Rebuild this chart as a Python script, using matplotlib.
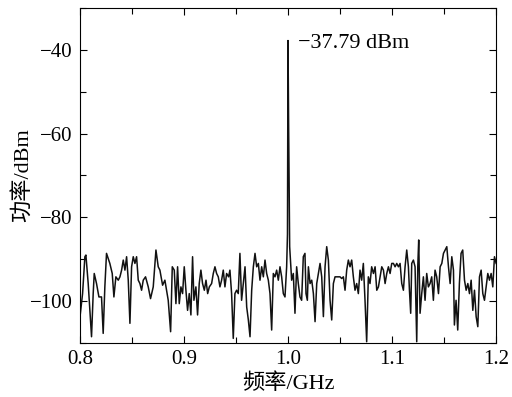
import matplotlib
matplotlib.use("Agg")
import matplotlib.pyplot as plt
from matplotlib.ticker import MultipleLocator

# font: serif for latin, CJK fallback for the chinese labels
plt.rcParams['font.family'] = ['Liberation Serif', 'Noto Sans CJK SC']
plt.rcParams['axes.unicode_minus'] = True

# spectrum trace (GHz, dBm)
freq = [0.8000, 0.8026, 0.8048, 0.8058, 0.8080, 0.8112, 0.8128, 0.8138, 0.8160, 0.8183,
        0.8208, 0.8224, 0.8240, 0.8256, 0.8288, 0.8311, 0.8327, 0.8346, 0.8369, 0.8385,
        0.8401, 0.8417, 0.8433, 0.8449, 0.8465, 0.8481, 0.8497, 0.8513, 0.8529, 0.8545,
        0.8561, 0.8577, 0.8593, 0.8609, 0.8631, 0.8657, 0.8679, 0.8705, 0.8731, 0.8753,
        0.8769, 0.8795, 0.8817, 0.8833, 0.8849, 0.8872, 0.8888, 0.8907, 0.8923, 0.8939,
        0.8955, 0.8971, 0.8987, 0.9003, 0.9019, 0.9035, 0.9051, 0.9067, 0.9083, 0.9096,
        0.9115, 0.9131, 0.9147, 0.9163, 0.9179, 0.9196, 0.9212, 0.9228, 0.9244, 0.9266,
        0.9282, 0.9298, 0.9314, 0.9330, 0.9346, 0.9362, 0.9378, 0.9394, 0.9410, 0.9429,
        0.9442, 0.9458, 0.9474, 0.9490, 0.9506, 0.9522, 0.9538, 0.9554, 0.9571, 0.9587,
        0.9603, 0.9619, 0.9635, 0.9651, 0.9667, 0.9683, 0.9699, 0.9715, 0.9731, 0.9747,
        0.9763, 0.9779, 0.9795, 0.9811, 0.9827, 0.9843, 0.9859, 0.9875, 0.9891, 0.9907,
        0.9923, 0.9939, 0.9955, 0.9971, 0.9987, 0.9995, 1.0000, 1.0006, 1.0016, 1.0035,
        1.0051, 1.0067, 1.0083, 1.0099, 1.0115, 1.0131, 1.0147, 1.0163, 1.0173, 1.0186,
        1.0196, 1.0212, 1.0228, 1.0244, 1.0260, 1.0276, 1.0292, 1.0308, 1.0324, 1.0340,
        1.0356, 1.0372, 1.0388, 1.0404, 1.0420, 1.0436, 1.0452, 1.0468, 1.0484, 1.0500,
        1.0516, 1.0532, 1.0548, 1.0564, 1.0580, 1.0596, 1.0612, 1.0628, 1.0644, 1.0660,
        1.0676, 1.0692, 1.0708, 1.0724, 1.0740, 1.0756, 1.0772, 1.0788, 1.0804, 1.0821,
        1.0837, 1.0853, 1.0869, 1.0885, 1.0901, 1.0917, 1.0933, 1.0949, 1.0965, 1.0981,
        1.0997, 1.1013, 1.1029, 1.1045, 1.1061, 1.1077, 1.1093, 1.1109, 1.1125, 1.1141,
        1.1157, 1.1167, 1.1179, 1.1189, 1.1205, 1.1221, 1.1237, 1.1247, 1.1256, 1.1269,
        1.1285, 1.1301, 1.1317, 1.1333, 1.1349, 1.1365, 1.1381, 1.1397, 1.1413, 1.1429,
        1.1446, 1.1462, 1.1478, 1.1494, 1.1510, 1.1526, 1.1542, 1.1558, 1.1574, 1.1590,
        1.1599, 1.1615, 1.1631, 1.1647, 1.1663, 1.1679, 1.1696, 1.1712, 1.1728, 1.1744,
        1.1760, 1.1776, 1.1792, 1.1808, 1.1824, 1.1840, 1.1856, 1.1872, 1.1888, 1.1904,
        1.1920, 1.1936, 1.1952, 1.1968, 1.1984, 1.2000]

power = [-104.0, -98.2, -89.4, -89.0, -95.8, -108.5, -98.2, -93.4, -95.8, -99.0,
         -99.0, -107.7, -96.6, -88.6, -91.0, -93.4, -99.0, -94.2, -95.0, -94.2,
         -92.6, -90.2, -92.6, -89.4, -95.0, -105.3, -91.8, -89.4, -91.0, -89.4,
         -95.0, -95.8, -97.4, -95.0, -94.2, -96.6, -99.4, -96.6, -87.8, -91.8,
         -92.6, -96.2, -95.0, -97.4, -99.8, -107.3, -91.8, -92.6, -100.6, -91.8,
         -100.6, -96.6, -98.2, -91.8, -97.4, -102.2, -98.2, -103.3, -89.4, -99.8,
         -96.6, -103.3, -95.8, -92.6, -95.8, -97.4, -95.0, -98.2, -96.6, -95.8,
         -93.4, -91.8, -93.4, -94.2, -96.6, -95.0, -92.6, -96.6, -93.4, -94.2,
         -92.6, -98.2, -108.9, -98.2, -97.4, -98.2, -88.6, -99.8, -95.8, -91.8,
         -101.4, -104.5, -108.5, -97.4, -91.8, -88.6, -91.8, -91.0, -95.0, -91.8,
         -94.2, -90.2, -93.4, -95.0, -98.2, -106.9, -93.4, -94.2, -92.6, -95.0,
         -91.8, -94.2, -98.2, -99.0, -91.8, -84.0, -37.79, -58.0, -87.0, -95.0,
         -93.4, -102.9, -91.8, -95.8, -99.0, -99.8, -89.4, -88.6, -98.2, -99.8,
         -91.8, -95.8, -95.0, -98.2, -104.9, -95.8, -93.4, -91.0, -94.2, -103.7,
         -91.8, -87.0, -90.2, -99.8, -104.5, -95.8, -94.2, -94.2, -94.2, -94.2,
         -94.6, -94.2, -97.4, -92.6, -90.2, -91.8, -90.2, -94.2, -97.4, -95.8,
         -98.2, -92.6, -95.0, -91.0, -99.8, -109.7, -94.2, -95.8, -91.8, -93.4,
         -91.8, -97.4, -96.6, -94.2, -91.8, -92.6, -95.8, -93.4, -91.8, -93.4,
         -91.0, -91.0, -91.8, -91.0, -91.8, -91.0, -95.8, -97.4, -91.8, -87.8,
         -91.8, -97.4, -102.9, -91.0, -90.2, -91.8, -109.7, -91.8, -85.4, -102.9,
         -98.2, -94.2, -99.8, -93.4, -96.6, -95.8, -94.2, -99.8, -92.6, -94.2,
         -98.2, -91.8, -91.0, -88.6, -87.8, -87.0, -91.8, -95.8, -89.4, -92.6,
         -105.7, -99.8, -106.9, -95.8, -88.6, -87.8, -95.0, -97.4, -95.8, -98.2,
         -95.0, -102.2, -97.4, -103.7, -106.1, -94.2, -92.6, -98.2, -99.8, -96.6,
         -93.4, -95.0, -93.4, -96.6, -89.4, -91.0]

peak_f = 1.0
peak_p = -37.79

fig = plt.figure(figsize=(5.12, 3.97), dpi=100)
ax = fig.add_axes([0.156, 0.136, 0.813, 0.844])

ax.plot(freq, power, color='#111111', linewidth=1.1)

ax.set_xlim(0.8, 1.2)
ax.set_ylim(-110, -30)
ax.xaxis.set_major_locator(MultipleLocator(0.1))
ax.xaxis.set_minor_locator(MultipleLocator(0.05))
ax.yaxis.set_major_locator(MultipleLocator(20))
ax.yaxis.set_minor_locator(MultipleLocator(10))
ax.set_xticklabels([f'{v:.1f}' for v in ax.get_xticks()])

ax.tick_params(which='both', direction='in', top=True, right=True,
               labelsize=15, pad=5)
ax.tick_params(which='major', length=5, width=0.8)
ax.tick_params(which='minor', length=4, width=0.8)
for s in ax.spines.values():
    s.set_linewidth(0.8)

ax.text(peak_f + 0.0093, peak_p - 0.8, f'\u2212{abs(peak_p):.2f} dBm',
        fontsize=16, ha='left', va='center')

ax.set_xlabel('频率/GHz', fontsize=16, labelpad=3)
ax.set_ylabel('功率/dBm', fontsize=16)
ax.yaxis.set_label_coords(-0.112, 0.5)

fig.savefig('out.png', dpi=100)
